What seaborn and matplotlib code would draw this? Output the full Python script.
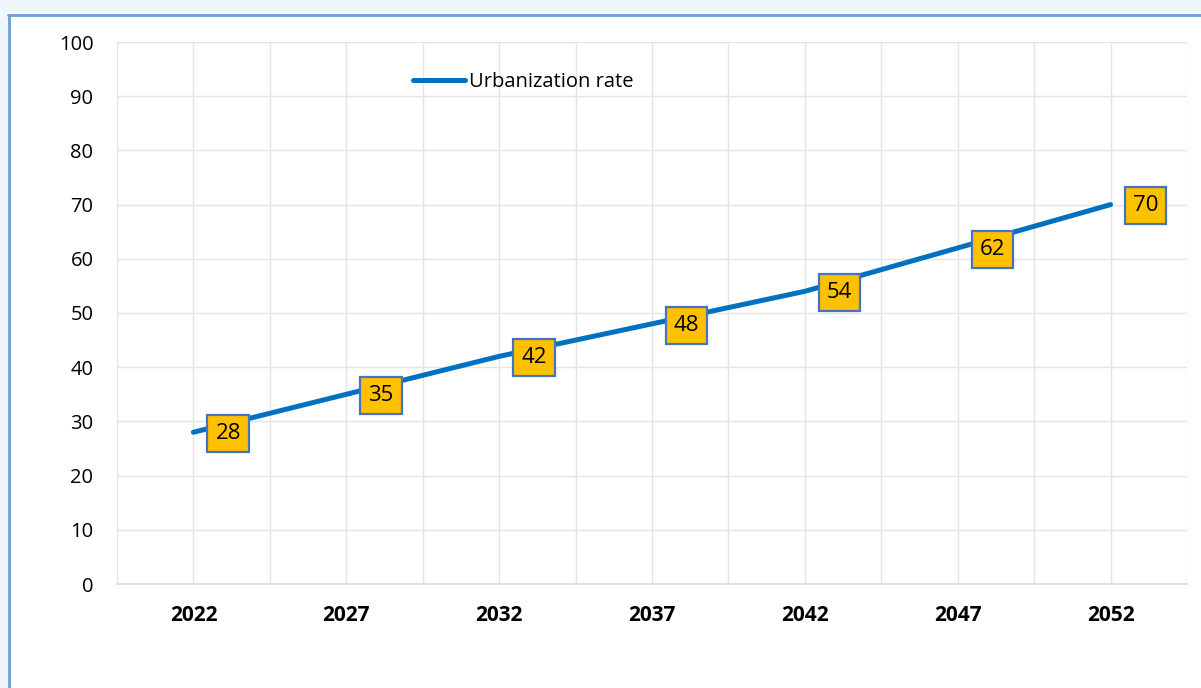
import matplotlib
matplotlib.use("Agg")
import matplotlib.pyplot as plt
import seaborn as sns
import pandas as pd
from matplotlib.patches import Rectangle
from matplotlib.lines import Line2D

years = ["2022", "2027", "2032", "2037", "2042", "2047", "2052"]
rates = [28, 35, 42, 48, 54, 62, 70]
series_name = "Urbanization rate"

sns.set_theme(style="white")
plt.rcParams["font.family"] = ["Open Sans", "DejaVu Sans"]
plt.rcParams["text.color"] = "black"
plt.rcParams["xtick.color"] = "black"
plt.rcParams["ytick.color"] = "black"

W, H = 1201, 688
fig = plt.figure(figsize=(W / 100, H / 100), dpi=100)
fig.patch.set_facecolor("white")

# outer frame look
fig.patches.append(Rectangle((0, 1 - 14 / H), 1, 14 / H, transform=fig.transFigure,
                             facecolor="#f0f7fc", edgecolor="none", zorder=0))
fig.patches.append(Rectangle((0, 0), 8 / W, 1, transform=fig.transFigure,
                             facecolor="#f0f7fc", edgecolor="none", zorder=0))
fig.lines.append(Line2D([8 / W, 1], [1 - 14.5 / H, 1 - 14.5 / H], transform=fig.transFigure,
                        color="#6a9fd8", lw=2, zorder=1))
fig.lines.append(Line2D([8.5 / W, 8.5 / W], [0, 1 - 14.5 / H], transform=fig.transFigure,
                        color="#6a9fd8", lw=2, zorder=1))

ax = fig.add_axes([117 / W, 1 - 584 / H, (1187 - 117) / W, (584 - 42) / H])
df = pd.DataFrame({"year": years, "rate": rates})
df["pos"] = range(len(years))

sns.lineplot(data=df, x="pos", y="rate", ax=ax, color="#0070C0", lw=3.6,
             label=series_name, zorder=3)

for xp, v in zip(df["pos"], df["rate"]):
    ax.annotate(str(v), (xp, v), xytext=(25, -1), textcoords="offset points",
                ha="center", va="center", fontsize=16, color="black",
                bbox=dict(boxstyle="square,pad=0.36", fc="#FFC000", ec="#4472C4", lw=1.6),
                zorder=4)

ax.set_xlim(-0.5, len(years) - 0.5)
ax.set_ylim(0, 100)
ax.set_xticks(range(len(years)))
ax.set_xticklabels(years, fontweight="bold", fontsize=15)
ax.set_xticks([i - 0.5 for i in range(len(years) + 1)], minor=True)
ax.set_yticks(range(0, 101, 10))
ax.tick_params(axis="y", labelsize=14.5, length=0, pad=17)
ax.tick_params(axis="x", which="both", length=0, pad=15)
ax.grid(True, axis="x", which="both", color="#e4e4e4", lw=1)
ax.grid(True, axis="y", which="major", color="#e4e4e4", lw=1)
ax.set_xlabel("")
ax.set_ylabel("")
for s in ["left", "top", "right"]:
    ax.spines[s].set_visible(False)
ax.spines["bottom"].set_color("#d9d9d9")
ax.spines["bottom"].set_linewidth(1.2)

leg = ax.legend(loc="center left", bbox_to_anchor=(413 / W, 1 - 82 / H),
                bbox_transform=fig.transFigure, frameon=False, fontsize=14.5,
                handlelength=2.6, handletextpad=0.2, borderpad=0, borderaxespad=0)
for t in leg.get_texts():
    t.set_color("black")

fig.savefig("out.png", dpi=100, facecolor=fig.get_facecolor())
